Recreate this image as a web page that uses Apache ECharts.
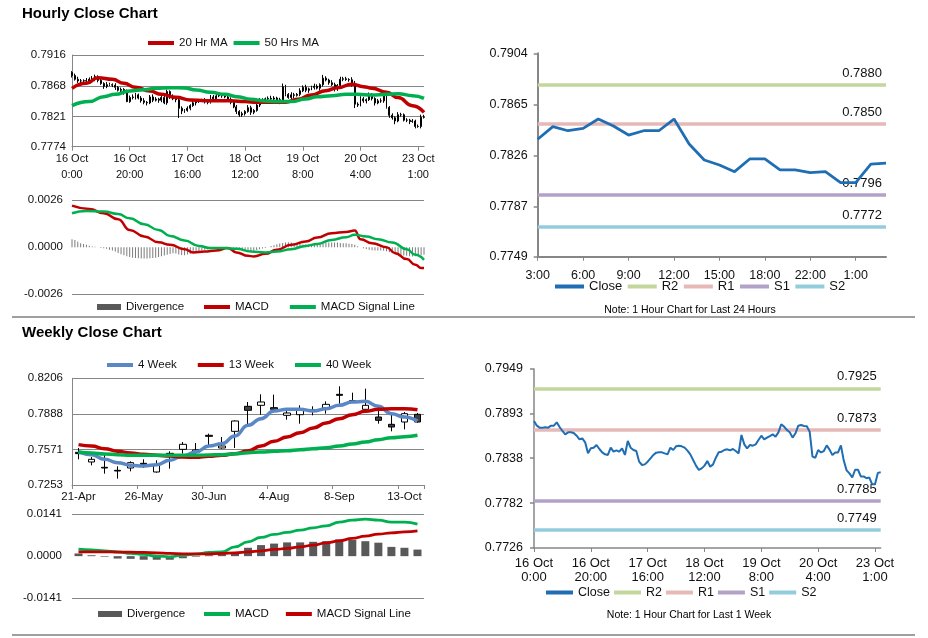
<!DOCTYPE html>
<html><head><meta charset="utf-8">
<script src="https://cdn.jsdelivr.net/npm/echarts@6/dist/echarts.min.js"></script>
<style>html,body{margin:0;padding:0;background:#fff}#c{width:928px;height:638px}</style>
</head><body><div id="c"></div><script>
// ---------------- DATA ----------------
// Hourly closes, 16 Oct 0:00 .. 23 Oct 2:00 (shared by hourly candles and 1-week line)
const hourlyClose = [
0.78842,0.78784,0.78759,0.78759,0.78763,0.78759,0.78784,0.78784,0.78826,0.78767,
0.78718,0.78676,0.78701,0.78701,0.78693,0.78659,0.78614,0.78626,0.78576,0.78439,
0.78502,0.78510,0.78543,0.78493,0.78452,0.78427,0.78419,0.78510,0.78460,0.78477,
0.78460,0.78502,0.78419,0.78593,0.78510,0.78481,0.78468,0.78335,0.78294,0.78302,
0.78335,0.78377,0.78419,0.78448,0.78452,0.78452,0.78439,0.78427,0.78510,0.78481,
0.78527,0.78535,0.78527,0.78510,0.78473,0.78427,0.78356,0.78286,0.78232,0.78252,
0.78286,0.78344,0.78273,0.78302,0.78385,0.78452,0.78460,0.78481,0.78489,0.78477,
0.78493,0.78468,0.78439,0.78668,0.78551,0.78502,0.78543,0.78535,0.78551,0.78605,
0.78659,0.78614,0.78635,0.78655,0.78676,0.78647,0.78701,0.78801,0.78772,0.78730,
0.78701,0.78635,0.78689,0.78784,0.78792,0.78780,0.78776,0.78709,0.78398,
0.78385,0.78481,0.78450,0.78468,0.78539,0.78486,0.78417,0.78450,0.78450,0.78539,
0.78349,0.78227,0.78189,0.78138,0.78235,0.78235,0.78151,0.78151,0.78130,0.78138,
0.78054,0.78054,0.78196,0.78204];
const hourlyFirstOpen = 0.78890;
// candle wick extents beyond the body, in pips (0.0001)
const hourlyWickUp = [
2,3,4,3,2,4,3,5,3,2,3,2,4,3,2,3,2,3,2,5,
3,4,3,2,3,4,2,3,4,3,2,4,3,3,2,4,3,2,3,2,
3,2,4,3,2,3,4,2,3,3,4,2,3,4,2,3,2,3,2,3,
2,4,3,2,3,4,3,2,3,4,3,2,3,5,3,2,4,3,2,4,
3,4,2,3,4,3,2,5,3,2,4,3,2,4,3,3,2,4,5,3,
4,3,2,4,3,2,3,4,2,3,2,3,2,4,3,2,3,2,3,2,
3,4,3];
const hourlyWickDown = [
3,2,3,4,2,3,4,2,3,3,2,4,3,2,3,4,2,3,3,1,
2,3,4,2,3,3,4,2,3,2,4,3,2,3,3,2,4,15,5,3,
2,3,2,4,3,2,3,3,2,4,3,2,3,2,4,3,2,4,3,3,
3,2,4,3,2,3,2,4,3,2,3,2,4,1,3,2,3,4,2,3,
2,3,4,2,3,2,4,3,2,3,2,4,3,2,3,2,3,4,6,3,
2,3,4,2,3,4,2,3,3,2,4,3,5,2,3,2,3,4,2,3,
2,3,2];
// [hour index, value] read points of the moving averages
const ma20 = [[0,0.78644],[5,0.78721],[9,0.78809],[14,0.78783],[18,0.78721],[22,0.78659],[27,0.78603],[31,0.78551],[36,0.78505],[41,0.78463],[46,0.78453],[50,0.78453],[55,0.78453],[60,0.78438],[64,0.78427],[69,0.78427],[74,0.78427],[78,0.78474],[83,0.78541],[88,0.78608],[92,0.78654],[97,0.78706],[101,0.78670],[104,0.78644],[109,0.78582],[113,0.78500],[118,0.78376],[122,0.78272]];
const ma50 = [[0,0.78376],[6,0.78438],[11,0.78515],[15,0.78551],[20,0.78603],[25,0.78623],[29,0.78644],[34,0.78654],[39,0.78649],[43,0.78618],[48,0.78582],[53,0.78551],[57,0.78515],[62,0.78474],[67,0.78448],[71,0.78438],[76,0.78438],[81,0.78479],[85,0.78515],[90,0.78530],[95,0.78551],[99,0.78551],[104,0.78541],[109,0.78551],[113,0.78561],[118,0.78530],[122,0.78489]];
// Hourly MACD
const hourlyMacd = [[0,0.00229],[6,0.00211],[11,0.00187],[16,0.00154],[20,0.00095],[25,0.00059],[30,0.00027],[34,0.00013],[39,-0.00011],[42,-0.00029],[46,-0.00024],[50,-0.00018],[54,-0.00005],[57,-0.00029],[61,-0.00048],[63,-0.00051],[67,-0.00037],[71,-0.00015],[76,0.00013],[81,0.00031],[85,0.00053],[90,0.00077],[95,0.00084],[98,0.00092],[100,0.00044],[104,0.00022],[109,0],[112,-0.00033],[116,-0.00066],[119,-0.00097],[121,-0.00115],[122,-0.00115]];
const hourlySignal = [[0,0.00187],[5,0.00200],[11,0.00196],[16,0.00183],[20,0.00159],[25,0.00126],[30,0.00095],[34,0.00062],[39,0.00037],[44,0.00007],[48,-0.00005],[53,-0.00005],[57,-0.00009],[62,-0.00024],[67,-0.00029],[71,-0.00024],[76,-0.00011],[81,0.00007],[85,0.00018],[90,0.00040],[95,0.00055],[98,0.00068],[102,0.00059],[106,0.00044],[111,0.00026],[116,-0.00011],[119,-0.00042],[122,-0.00070]];
// divergence in units of 0.0001
const hourlyDivergence = [
4.4,3.9,3.0,2.2,1.8,1.3,0.8,0.4,0.2,0,
-0.4,-0.6,-0.9,-1.4,-1.8,-2.4,-3.2,-3.9,-4.5,-5.0,
-5.4,-5.8,-6.0,-6.1,-6.2,-6.2,-6.2,-6.1,-6.0,-5.8,
-5.5,-5.0,-4.6,-4.2,-3.8,-3.4,-3.5,-4.0,-4.3,-4.4,
-4.1,-3.7,-3.0,-2.6,-2.2,-1.8,-1.5,-1.2,-1.0,-0.8,
-0.6,-0.5,-0.3,-0.2,0,-0.3,-0.6,-1.0,-1.4,-1.7,
-1.9,-2.0,-2.1,-2.0,-1.6,-1.2,-0.8,-0.4,0,0.7,
1.1,1.6,2.0,2.3,2.6,2.7,2.6,2.3,2.0,1.8,
1.5,1.5,1.6,1.6,1.7,1.7,2.0,2.4,2.6,2.6,
2.6,2.6,2.5,2.3,2.2,2.1,1.9,1.8,1.3,0.5,
-0.1,-0.6,-1.0,-1.4,-1.7,-1.8,-1.9,-1.8,-2.0,-2.3,
-2.8,-3.2,-3.6,-4.0,-4.3,-4.6,-4.8,-5.0,-5.1,-5.0,
-4.8,-4.5,-4.2];
const hourlyTickLabels = ['16 Oct\n0:00','16 Oct\n20:00','17 Oct\n16:00','18 Oct\n12:00','19 Oct\n8:00','20 Oct\n4:00','23 Oct\n1:00'];
const hourlyYTicks = [0.7774,0.7821,0.7868,0.7916];
const hourlyMacdTicks = [-0.0026,0,0.0026];

// Last 24 hours
const dayStart = 99; // index of 3:00 in hourlyClose
const dayTickLabels = ['3:00','6:00','9:00','12:00','15:00','18:00','22:00','1:00'];
const dayYTicks = [0.7749,0.7787,0.7826,0.7865,0.7904];
const dayLevels = {R2:0.7880, R1:0.7850, S1:0.7796, S2:0.7772};

// Last 1 week
const weekYTicks = [0.7726,0.7782,0.7838,0.7893,0.7949];
const weekLevels = {R2:0.7925, R1:0.7873, S1:0.7785, S2:0.7749};

// Weekly
const weeklyCats = ['21-Apr','28-Apr','5-May','12-May','19-May','26-May','2-Jun','9-Jun','16-Jun','23-Jun','30-Jun','7-Jul','14-Jul','21-Jul','28-Jul','4-Aug','11-Aug','18-Aug','25-Aug','1-Sep','8-Sep','15-Sep','22-Sep','29-Sep','6-Oct','13-Oct','20-Oct'];
const weeklyOpen  = [0.75448,0.74585,0.74109,0.73841,0.74049,0.74466,0.73692,0.75300,0.75716,0.75478,0.76967,0.75835,0.77324,0.79557,0.79646,0.79438,0.78753,0.78812,0.79229,0.79408,0.80628,0.80063,0.79289,0.78604,0.77949,0.78158,0.78842];
const weeklyClose = [0.75330,0.74823,0.74049,0.73781,0.74526,0.74377,0.74287,0.75359,0.76163,0.75657,0.76877,0.76014,0.78247,0.79200,0.79944,0.79289,0.78961,0.79259,0.79170,0.79735,0.80539,0.80003,0.79646,0.78306,0.77711,0.78902,0.78158];
const weeklyLow   = [0.74823,0.74287,0.73543,0.73097,0.73752,0.74049,0.73633,0.73990,0.75330,0.75330,0.75925,0.75776,0.75835,0.77860,0.78812,0.79110,0.78366,0.78009,0.78753,0.78902,0.79795,0.79884,0.79200,0.78009,0.77324,0.77503,0.78098];
const weeklyHigh  = [0.75835,0.75032,0.75240,0.74198,0.74645,0.74823,0.74734,0.75538,0.76371,0.76282,0.77116,0.76818,0.78306,0.79944,0.80628,0.80599,0.79200,0.79646,0.79557,0.80003,0.81343,0.80777,0.81135,0.79408,0.78812,0.79051,0.78961];
const week4  = [0.75478,0.75240,0.74823,0.74526,0.74287,0.74228,0.74347,0.74734,0.75121,0.75478,0.76014,0.76222,0.76907,0.77860,0.78455,0.79140,0.79289,0.79289,0.79140,0.79348,0.79646,0.79944,0.80003,0.79557,0.78902,0.78604,0.78217];
const week13 = [0.76133,0.76014,0.75776,0.75538,0.75389,0.75270,0.75181,0.75121,0.75032,0.75002,0.75091,0.75181,0.75329,0.75568,0.76014,0.76431,0.76818,0.77205,0.77622,0.78068,0.78455,0.78812,0.79110,0.79289,0.79348,0.79348,0.79259];
const week40 = [0.75478,0.75389,0.75300,0.75240,0.75181,0.75181,0.75181,0.75181,0.75181,0.75181,0.75210,0.75240,0.75329,0.75419,0.75478,0.75538,0.75597,0.75687,0.75776,0.75865,0.76014,0.76193,0.76371,0.76580,0.76758,0.76848,0.76967];
const weeklyMacd   = [0.00234,0.00212,0.00178,0.00145,0.00089,0.00056,0,-0.00022,0.00033,0.00067,0.00123,0.00145,0.00312,0.00479,0.00624,0.00725,0.00792,0.00870,0.00948,0.01015,0.01137,0.01204,0.01238,0.01204,0.01137,0.01137,0.01070];
const weeklySignal = [0.00145,0.00145,0.00145,0.00134,0.00134,0.00123,0.00112,0.00089,0.00078,0.00078,0.00078,0.00089,0.00112,0.00145,0.00178,0.00223,0.00256,0.00312,0.00368,0.00446,0.00513,0.00591,0.00669,0.00736,0.00781,0.00814,0.00847];
const weeklyDivergence = [0.0009,0.0003,-0.0002,-0.0008,-0.0009,-0.0012,-0.0012,-0.0012,-0.0007,-0.0002,0.0003,0.0007,0.0011,0.0028,0.0037,0.0042,0.0046,0.0046,0.0048,0.0050,0.0056,0.0054,0.0050,0.0045,0.0031,0.0028,0.0022];
const weeklyYTicks = [0.7253,0.7571,0.7888,0.8206];
const weeklyMacdTicks = [-0.0141,0,0.0141];

// ---------------- BUILD ----------------
const PIP = 0.0001;
const FONT = "'Liberation Sans', Arial, Helvetica, sans-serif";
const AX = '#868686';
const TXT = '#111';
const RED = '#c00000', GREEN = '#00b050', BLUE = '#5a87c5', CLOSE = '#1f6db3';
const LEVEL_COLORS = {R2:'#c3d69b', R1:'#e6b9b8', S1:'#b3a2c7', S2:'#93cddd'};
const LEVEL_NAMES = ['R2','R1','S1','S2'];

const hourlyCats = hourlyClose.map((_, i) => 'h' + i);
const hourlyOHLC = hourlyClose.map((c, i) => {
  const o = i === 0 ? hourlyFirstOpen : hourlyClose[i - 1];
  return [o, c, Math.min(o, c) - hourlyWickDown[i] * PIP, Math.max(o, c) + hourlyWickUp[i] * PIP];
});
const dayClose = hourlyClose.slice(dayStart);
const dayCats = dayClose.map((_, i) => 'd' + i);
const weeklyOHLC = weeklyCats.map((_, i) => [weeklyOpen[i], weeklyClose[i], weeklyLow[i], weeklyHigh[i]]);

const nameMap = {hDiv:'Divergence', hMACD:'MACD', hSignal:'MACD Signal Line', wDiv:'Divergence', wMACD:'MACD', wSignal:'MACD Signal Line'};

const grids = [
  {left:72, top:55, width:352, height:91.7},      // 0 hourly candles
  {left:72, top:200, width:352, height:94.3},     // 1 hourly MACD
  {left:537.7, top:53.3, width:348.3, height:203.4}, // 2 24h
  {left:72, top:378.3, width:352, height:106.7},  // 3 weekly
  {left:72, top:514, width:352, height:84.3},     // 4 weekly MACD
  {left:534, top:369, width:346.7, height:179}    // 5 1 week
].map(g => Object.assign({outerBoundsMode:'none', containLabel:false}, g));

function yAx(gi, ticks, o) {
  return {
    type:'value', gridIndex:gi, min:ticks[0], max:ticks[ticks.length-1], scale:true,
    axisLine:{show:!!o.line, lineStyle:{color:AX, width:o.lineW || 1}},
    axisTick:{show:!!o.tick, customValues:ticks, length:4, inside:false, lineStyle:{color:AX, width:1.5}},
    axisLabel:{customValues:ticks, formatter:v => v.toFixed(4), color:TXT, fontFamily:FONT, fontSize:o.fs, margin:o.margin},
    splitLine:{show:!!o.split, lineStyle:{color:o.splitColors || AX, width:1}}
  };
}
function xCat(gi, cats, o) {
  return {
    type:'category', gridIndex:gi, data:cats, boundaryGap:!!o.gap, show:o.show !== false,
    axisLine:{show:true, onZero:false, lineStyle:{color:AX, width:o.lineW || 1}},
    axisTick:{show:true, interval:o.every - 1, length:4, lineStyle:{color:AX, width:1}},
    axisLabel:{interval:o.every - 1, formatter:o.fmt, color:TXT, fontFamily:FONT, fontSize:o.fs, lineHeight:o.lh, margin:o.margin},
    splitLine:{show:false}
  };
}
const hourFmt = (v, i) => hourlyTickLabels[i / 20] || '';

const xAxis = [
  xCat(0, hourlyCats, {every:20, fmt:hourFmt, fs:11, lh:16, margin:4}),
  xCat(1, hourlyCats, {every:20, show:false}),
  xCat(2, dayCats, {every:3, fmt:(v, i) => dayTickLabels[i / 3] || '', fs:12.5, margin:12, lineW:2}),
  xCat(3, weeklyCats, {every:5, gap:true, fs:11.5, margin:6}),
  xCat(4, weeklyCats, {every:5, gap:true, show:false}),
  xCat(5, hourlyCats, {every:20, fmt:hourFmt, fs:13, lh:14, margin:8, lineW:1.5})
];
const noZero = [AX, 'rgba(0,0,0,0)', AX];
const yAxis = [
  yAx(0, hourlyYTicks, {line:true, split:true, fs:11.5, margin:6}),
  yAx(1, hourlyMacdTicks, {split:true, splitColors:noZero, fs:11.5, margin:9}),
  yAx(2, dayYTicks, {line:true, lineW:2, tick:true, fs:12.5, margin:10}),
  yAx(3, weeklyYTicks, {line:true, split:true, fs:11.5, margin:9}),
  yAx(4, weeklyMacdTicks, {split:true, splitColors:noZero, fs:11.5, margin:10}),
  yAx(5, weekYTicks, {line:true, lineW:1.5, tick:true, fs:12.5, margin:11})
];

function lineS(name, gi, data, color, width, extra) {
  return Object.assign({
    name, type:'line', xAxisIndex:gi, yAxisIndex:gi, data, symbol:'none', silent:true,
    smooth:true, smoothMonotone:'x',
    lineStyle:{color, width}, itemStyle:{color}, z:3
  }, extra || {});
}
// support / resistance levels drawn as mark lines of the close series
function levelMarks(levels, fs) {
  return {
    silent:true, symbol:'none', animation:false, z:1, precision:4,
    emphasis:{disabled:true},
    data: LEVEL_NAMES.map(n => ({
      name:n, yAxis:levels[n],
      lineStyle:{color:LEVEL_COLORS[n], width:3.5, type:'solid'},
      label:{show:true, position:'insideEndTop', formatter:levels[n].toFixed(4), color:TXT, fontFamily:FONT, fontSize:fs, distance:[4,5]}
    }))
  };
}
// legend-only entries for the levels
function levelLegendSeries(gi) {
  return LEVEL_NAMES.map(n => ({
    name:n, type:'line', xAxisIndex:gi, yAxisIndex:gi, data:[], symbol:'none', silent:true,
    lineStyle:{color:LEVEL_COLORS[n], width:3.5}, itemStyle:{color:LEVEL_COLORS[n]}
  }));
}

const series = [
  {name:'Hourly', type:'candlestick', xAxisIndex:0, yAxisIndex:0, data:hourlyOHLC, barMaxWidth:1.6, barMinWidth:1, silent:true, z:2,
   itemStyle:{color:'#000', color0:'#000', borderColor:'#000', borderColor0:'#000', borderWidth:1}},
  lineS('20 Hr MA', 0, ma20, RED, 3.5),
  lineS('50 Hrs MA', 0, ma50, GREEN, 3.5),

  {name:'hDiv', type:'bar', xAxisIndex:1, yAxisIndex:1, data:hourlyDivergence.map(v => v * PIP), barWidth:1, silent:true,
   itemStyle:{color:'#7a7a7a'}},
  lineS('hMACD', 1, hourlyMacd, RED, 2.5),
  lineS('hSignal', 1, hourlySignal, GREEN, 2.5),

  lineS('Close', 2, dayClose, CLOSE, 2.75, {smooth:false, markLine:levelMarks(dayLevels, 13)}),
  ...levelLegendSeries(2),

  {name:'Weekly', type:'candlestick', xAxisIndex:3, yAxisIndex:3, data:weeklyOHLC, barWidth:7, silent:true, z:2,
   itemStyle:{color:'#fff', color0:'#404040', borderColor:'#000', borderColor0:'#000', borderWidth:1}},
  lineS('4 Week', 3, week4, BLUE, 3.5),
  lineS('13 Week', 3, week13, RED, 3.5),
  lineS('40 Week', 3, week40, GREEN, 3.5),

  {name:'wDiv', type:'bar', xAxisIndex:4, yAxisIndex:4, data:weeklyDivergence, barWidth:8, silent:true,
   itemStyle:{color:'#595959'}},
  lineS('wMACD', 4, weeklyMacd, GREEN, 2.75),
  lineS('wSignal', 4, weeklySignal, RED, 2.75),

  lineS('Close', 5, hourlyClose, CLOSE, 2, {smooth:false, markLine:levelMarks(weekLevels, 13)}),
  ...levelLegendSeries(5)
];

function leg(data, left, top, o) {
  return {
    data, left, top, padding:0, orient:'horizontal', icon:'rect', selectedMode:false,
    itemWidth:o.w || 26, itemHeight:o.h || 4, itemGap:o.gap || 10,
    formatter:n => nameMap[n] || n,
    textStyle:{color:TXT, fontFamily:FONT, fontSize:o.fs || 11.5}
  };
}
const legend = [
  leg(['20 Hr MA','50 Hrs MA'], 148, 37, {gap:6}),
  leg([{name:'hDiv', itemStyle:{color:'#595959'}}], 97, 301, {w:24, h:6}),
  leg(['hMACD','hSignal'], 204, 301, {gap:21}),
  leg(['Close','R2','R1','S1','S2'], 555, 280, {w:29, gap:5.5, fs:13}),
  leg(['4 Week','13 Week','40 Week'], 107, 359, {gap:21}),
  leg([{name:'wDiv', itemStyle:{color:'#595959'}}], 98, 608, {w:24, h:6}),
  leg([{name:'wMACD', itemStyle:{color:GREEN}}, {name:'wSignal', itemStyle:{color:RED}}], 204, 608, {gap:17}),
  leg(['Close','R2','R1','S1','S2'], 546, 586, {w:27, gap:4, fs:12.5})
];

function txt(text, x, y, size, weight, align) {
  return {type:'text', x, y, silent:true, z:10,
    style:{text, fill:'#000', fontFamily:FONT, fontSize:size, fontWeight:weight || 'normal',
      align:align || 'left', textAlign:align || 'left', verticalAlign:'middle', textVerticalAlign:'middle'}};
}
function sep(y) {
  return {type:'line', silent:true, shape:{x1:12, y1:y, x2:915, y2:y}, style:{stroke:'#7f7f7f', lineWidth:1.5}};
}
const graphic = [
  txt('Hourly Close Chart', 22, 14, 15, 'bold'),
  txt('Weekly Close Chart', 22, 333, 15, 'bold'),
  txt('Note: 1 Hour Chart for Last 24 Hours', 690, 310, 10.5, 'normal', 'center'),
  txt('Note: 1 Hour Chart for Last 1 Week', 689, 615, 10.5, 'normal', 'center'),
  sep(317), sep(635)
];

const chart = echarts.init(document.getElementById('c'), null, {renderer:'canvas'});
chart.setOption({animation:false, backgroundColor:'#fff', grid:grids, xAxis, yAxis, series, legend, graphic});
</script></body></html>
